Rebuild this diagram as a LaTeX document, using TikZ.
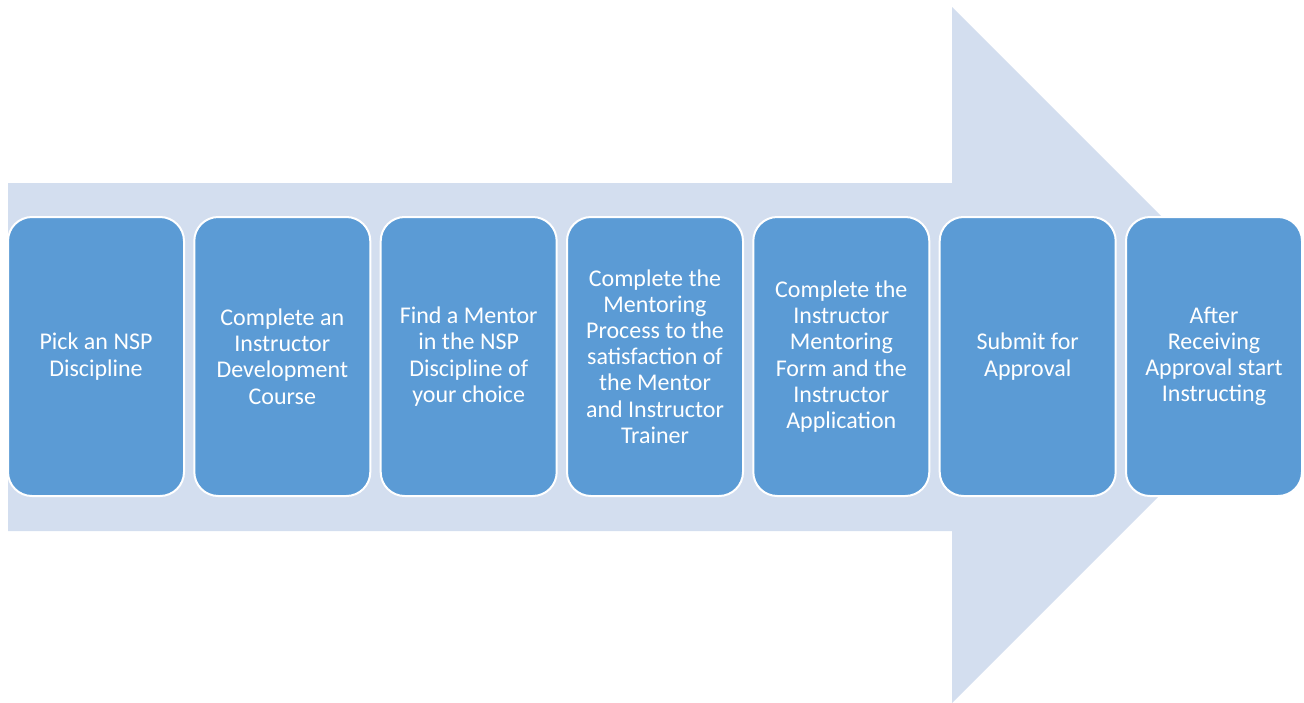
\documentclass[tikz,border=0pt]{standalone}
\usepackage{fontspec}
\setmainfont{Carlito}
\definecolor{arrowbg}{HTML}{D3DEEF}
\definecolor{boxfill}{HTML}{5B9BD5}
\begin{document}
\begin{tikzpicture}[x=1pt,y=-1pt,
  stepbox/.style={draw=white, line width=2pt, fill=boxfill, rounded corners=24pt,
    minimum width=176pt, minimum height=279pt, text=white, align=center,
    font=\fontsize{24pt}{26.2pt}\selectfont, inner sep=0pt}]
\useasboundingbox (0,0) rectangle (1304,702);
\fill[arrowbg] (8,183) -- (952,183) -- (952,7) -- (1300,355) -- (952,703) -- (952,531) -- (8,531) -- cycle;
\node[stepbox] (s1) at (96,356.5) {Pick an NSP\\Discipline};
\node[stepbox] (s2) at (282.3,356.5) {Complete an\\Instructor\\Development\\Course};
\node[stepbox] (s3) at (468.7,356.5) {Find a Mentor\\in the NSP\\Discipline of\\your choice};
\node[stepbox] (s4) at (655,356.5) {Complete the\\Mentoring\\Process to the\\satisfaction of\\the Mentor\\and Instructor\\Trainer};
\node[stepbox] (s5) at (841.3,356.5) {Complete the\\Instructor\\Mentoring\\Form and the\\Instructor\\Application};
\node[stepbox] (s6) at (1027.7,356.5) {Submit for\\Approval};
\node[stepbox] (s7) at (1214,356.5) {After\\Receiving\\Approval start\\Instructing};
\end{tikzpicture}
\end{document}
